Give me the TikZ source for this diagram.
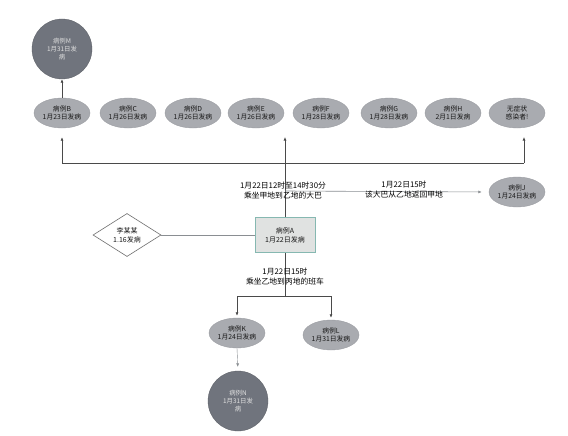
\documentclass[tikz,border=0pt]{standalone}
\usepackage{fontspec}
\setmainfont{Noto Sans CJK SC}
\usetikzlibrary{shapes.geometric,arrows.meta}
\definecolor{ellfill}{HTML}{A9ABB0}
\definecolor{elldraw}{HTML}{9A9CA1}
\definecolor{circfill}{HTML}{70747D}
\definecolor{boxfill}{HTML}{E0E2E1}
\definecolor{boxdraw}{HTML}{86B8B1}
\definecolor{linec}{HTML}{4A4A4A}
\definecolor{lightline}{HTML}{8A8E92}
\tikzset{
  ell/.style={ellipse, fill=ellfill, draw=elldraw, line width=0.4pt, minimum width=56pt, minimum height=30pt,
    inner sep=-1pt, align=center, font=\fontsize{6.8}{8.2}\selectfont, text=black!90},
  circ/.style={circle, fill=circfill, draw=circfill!80!black, line width=0.3pt, minimum size=60pt, inner sep=0pt,
    align=center, font=\fontsize{6.4}{8}\selectfont, text=white!88!black},
  abox/.style={rectangle, fill=boxfill, draw=boxdraw, line width=1pt, minimum width=60pt, minimum height=35pt,
    align=center, font=\fontsize{7}{9}\selectfont, text=black!90},
  dia/.style={diamond, draw=linec!80, fill=white, line width=0.6pt, minimum width=68pt, minimum height=37pt,
    inner sep=0pt, align=center, font=\fontsize{7}{9}\selectfont, text=black!90},
  lab/.style={align=center, font=\fontsize{7.8}{10}\selectfont, text=black, inner sep=0pt},
  conn/.style={draw=linec, line width=0.7pt},
  arr/.style={conn, -{Latex[length=3.5pt,width=3pt]}},
  larr/.style={draw=lightline, line width=0.6pt, -{Latex[length=3.5pt,width=3pt]}},
}
\begin{document}
\begin{tikzpicture}[x=1pt,y=-1pt]
\useasboundingbox[fill=white] (0,0) rectangle (568,436);
% nodes
\node[circ] (M) at (62,49) {病例M\\1月31日发\\病};
\node[ell] (B) at (62,113) {病例B\\1月23日发病};
\node[ell] (C) at (128,113) {病例C\\1月26日发病};
\node[ell] (D) at (193,113) {病例D\\1月26日发病};
\node[ell] (E) at (256,113) {病例E\\1月26日发病};
\node[ell] (F) at (321,113) {病例F\\1月28日发病};
\node[ell] (G) at (389,113) {病例G\\1月28日发病};
\node[ell] (H) at (453,113) {病例H\\2月1日发病};
\node[ell] (W) at (517,113) {无症状\\感染者!};
\node[abox] (A) at (285,235) {病例A\\1月22日发病};
\node[dia] (P) at (127,235) {李某某\\1.16发病};
\node[ell] (J) at (517,192) {病例J\\1月24日发病};
\node[ell] (K) at (237,333) {病例K\\1月24日发病};
\node[ell] (L) at (331,335) {病例L\\1月31日发病};
\node[circ] (N) at (238,401) {病例N\\1月31日发\\病};
% coordinates
\coordinate (hL) at (62,163);
\coordinate (hR) at (524,163);
\coordinate (wEnd) at (524,137);
\coordinate (up) at (285,137);
\coordinate (br) at (285,191);
\coordinate (fork) at (285,296);
\coordinate (fL) at (237,296);
\coordinate (fR) at (331,296);
% connectors
\draw[arr] (B) -- (M);
\draw[conn] (hL) -- (hR);
\draw[arr, shorten >=9pt] (hL) -- (B.south);
\draw[arr] (hR) -- (wEnd);
\draw[arr] (A.north) -- (up);
\draw[larr, shorten >=7pt] (br) -- (J.west);
\draw[draw=lightline, line width=0.7pt] (P.east) -- (A.west);
\draw[conn] (A.south) -- (fork);
\draw[conn] (fL) -- (fR);
\draw[arr, shorten >=2pt] (fL) -- (K.north);
\draw[arr, shorten >=2pt] (fR) -- (L.north);
\draw[draw=lightline, line width=0.4pt, -{Latex[length=3.5pt,width=3pt]}, shorten >=4pt] (K.south) -- (N.north);
% labels
\node[lab] (l1) at (283,191) {1月22日12时至14时30分\\乘坐甲地到乙地的大巴};
\node[lab] (l2) at (404,190) {1月22日15时\\该大巴从乙地返回甲地};
\node[lab] (l3) at (285,277) {1月22日15时\\乘坐乙地到丙地的班车};
\end{tikzpicture}
\end{document}
